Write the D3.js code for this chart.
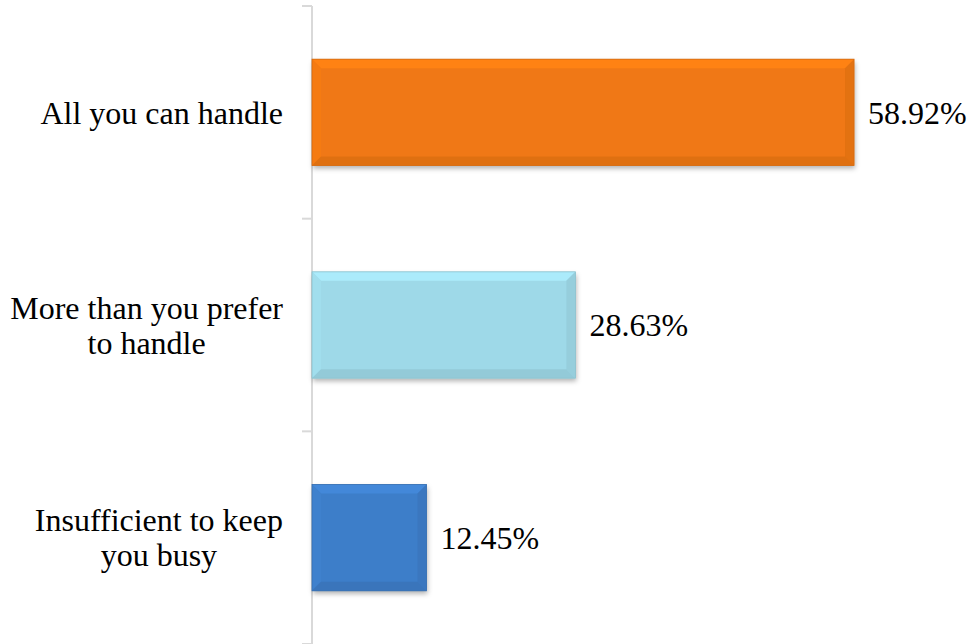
<!DOCTYPE html>
<html><head><meta charset="utf-8">
<script src="https://cdn.jsdelivr.net/npm/d3@7"></script>
<style>body{margin:0;background:#fff}svg{display:block}</style>
</head><body>
<script>
const categories = [["All you can handle"], ["More than you prefer", "to handle"], ["Insufficient to keep", "you busy"]];
const values = [58.92, 28.63, 12.45];
const valueLabels = ["58.92%", "28.63%", "12.45%"];
const colors = ["#F07812", "#9ED9E8", "#3E7EC9"];

const W = 975, H = 644;
const svg = d3.select("body").append("svg").attr("width", W).attr("height", H);
const x = d3.scaleLinear().domain([0, 70]).range([312, 312 + 644]);
const y = d3.scaleBand().domain(d3.range(categories.length)).range([6, 644]).paddingInner(0.5).paddingOuter(0.25);
const yStep = y.step();
const FS = 32;
const FONT = "Liberation Serif";

const defs = svg.append("defs");
const f = defs.append("filter").attr("id", "sh").attr("x", "-10%").attr("y", "-10%").attr("width", "130%").attr("height", "140%");
f.append("feDropShadow").attr("dx", 1).attr("dy", 3).attr("stdDeviation", 2.5).attr("flood-color", "#000").attr("flood-opacity", 0.3);

// axis line and ticks
const ax = svg.append("g").attr("stroke", "#d9d9d9").attr("stroke-width", 2);
ax.append("line").attr("x1", x(0)).attr("x2", x(0)).attr("y1", 6).attr("y2", H);
const tickYs = d3.range(categories.length + 1).map(i => 6 + i * yStep);
ax.selectAll("line.t").data(tickYs).join("line").attr("class", "t")
  .attr("x1", x(0) - 10).attr("x2", x(0)).attr("y1", d => d).attr("y2", d => d);

const b = 9;
values.forEach((v, i) => {
  const x0 = x(0), x1 = x(v), y0 = y(i), y1 = y(i) + y.bandwidth();
  const c = d3.color(colors[i]);
  const g = svg.append("g");
  g.append("rect").attr("x", x0).attr("y", y0).attr("width", x1 - x0).attr("height", y1 - y0)
    .attr("fill", c).attr("filter", "url(#sh)");
  const poly = (pts, col) => g.append("polygon").attr("points", pts.map(p => p.join(",")).join(" ")).attr("fill", col);
  poly([[x0, y0], [x1, y0], [x1 - b, y0 + b], [x0 + b, y0 + b]], c.brighter(0.22));
  poly([[x0, y0], [x0 + b, y0 + b], [x0 + b, y1 - b], [x0, y1]], c.brighter(0.06));
  poly([[x1, y0], [x1, y1], [x1 - b, y1 - b], [x1 - b, y0 + b]], c.darker(0.15));
  poly([[x0, y1], [x0 + b, y1 - b], [x1 - b, y1 - b], [x1, y1]], c.darker(0.2));
  g.append("rect").attr("x", x0).attr("y", y0).attr("width", x1 - x0).attr("height", y1 - y0)
    .attr("fill", "none").attr("stroke", c.darker(0.35)).attr("stroke-width", 0.8);
  g.append("text").attr("x", x1 + 14).attr("y", (y0 + y1) / 2).attr("dy", "0.35em")
    .attr("font-size", FS).style("font-family", FONT).attr("fill", "#000")
    .text(valueLabels[i]);
  const lines = categories[i];
  const t = svg.append("text").attr("text-anchor", "middle")
    .attr("font-size", FS).style("font-family", FONT).attr("fill", "#000");
  const lh = 35, cy = (y0 + y1) / 2;
  const spans = lines.map((l, k) =>
    t.append("tspan").attr("y", cy + (k - (lines.length - 1) / 2) * lh).attr("dy", "0.35em").text(l));
  const maxW = d3.max(spans, s => s.node().getComputedTextLength());
  spans.forEach(s => s.attr("x", 283 - maxW / 2));
});
</script>
</body></html>
